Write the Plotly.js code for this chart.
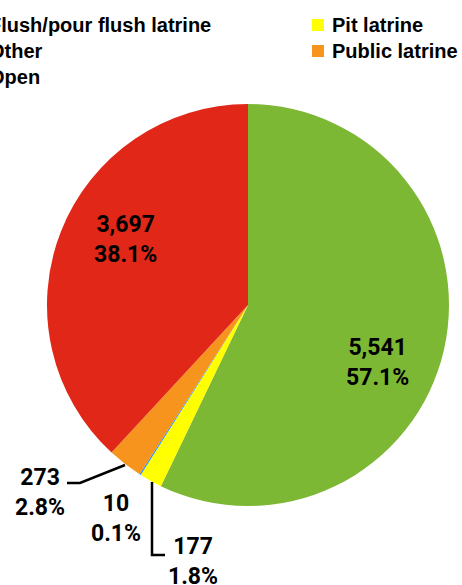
<!DOCTYPE html>
<html>
<head>
<meta charset="utf-8">
<script src="https://cdn.plot.ly/plotly-3.0.1.min.js"></script>
<style>html,body{margin:0;padding:0;background:#fff;}#chart{width:462px;height:585px;}</style>
</head>
<body>
<div id="chart"></div>
<script>
var categories = ["Flush/pour flush latrine", "Pit latrine", "Other", "Public latrine", "Open"];
var values = [5541, 177, 10, 273, 3697];
var colors = ["#7cb834", "#ffff00", "#1e90ff", "#f7941d", "#e02718"];

var total = values.reduce(function(a, b){ return a + b; }, 0);
function fmtNum(v){ return v.toLocaleString("en-US"); }
function fmtPct(v){ return (100 * v / total).toFixed(1) + "%"; }

var W = 462, H = 585;
function px(x){ return x / W; }
function py(y){ return 1 - y / H; }

// value label positions (pixels) for each category
var labelPos = [
  {x: 377, y: 362},
  {x: 193, y: 561},
  {x: 116, y: 518},
  {x: 40, y: 492},
  {x: 125, y: 239}
];

var annotations = categories.map(function(c, i){
  return {
    xref: "paper", yref: "paper",
    x: px(labelPos[i].x), y: py(labelPos[i].y),
    xanchor: "center", yanchor: "middle",
    text: fmtNum(values[i]) + "<br>" + fmtPct(values[i]),
    showarrow: false,
    font: {family: "Roboto", size: 23, color: "#000", weight: "bold"}
  };
});

function line(pts){
  var p = "M" + pts.map(function(q){ return px(q[0]) + "," + py(q[1]); }).join(" L");
  return {type: "path", xref: "paper", yref: "paper", path: p, line: {color: "#000", width: 2.5}};
}

var shapes = [
  line([[125, 465], [80, 483], [67, 483]]),
  line([[152, 482], [152, 555], [165, 555]])
];

// manual two-column legend (row-wise order, like a horizontal legend)
var legColText = [-13, 330];
var legColMark = [-31, 312];
var legRowY = [25, 51, 77];
categories.forEach(function(c, i){
  var col = i % 2, row = Math.floor(i / 2);
  var yc = legRowY[row];
  shapes.push({
    type: "rect", xref: "paper", yref: "paper",
    x0: px(legColMark[col]), x1: px(legColMark[col] + 12),
    y0: py(yc - 6), y1: py(yc + 6),
    fillcolor: colors[i], line: {width: 0}
  });
  annotations.push({
    xref: "paper", yref: "paper",
    x: px(legColText[col]), y: py(yc),
    xanchor: "left", yanchor: "middle",
    text: c, showarrow: false,
    font: {family: "Liberation Sans", size: 20, color: "#000", weight: "bold"}
  });
});

var trace = {
  type: "pie",
  labels: categories,
  values: values,
  sort: false,
  direction: "clockwise",
  rotation: 0,
  textinfo: "none",
  hoverinfo: "none",
  marker: {colors: colors, line: {width: 0}},
  domain: {x: [px(47), px(449)], y: [py(506), py(104)]}
};

var layout = {
  width: W, height: H,
  margin: {l: 0, r: 0, t: 0, b: 0, autoexpand: false},
  paper_bgcolor: "#fff",
  showlegend: false,
  annotations: annotations,
  shapes: shapes
};

Plotly.newPlot("chart", [trace], layout, {staticPlot: true});
</script>
</body>
</html>
